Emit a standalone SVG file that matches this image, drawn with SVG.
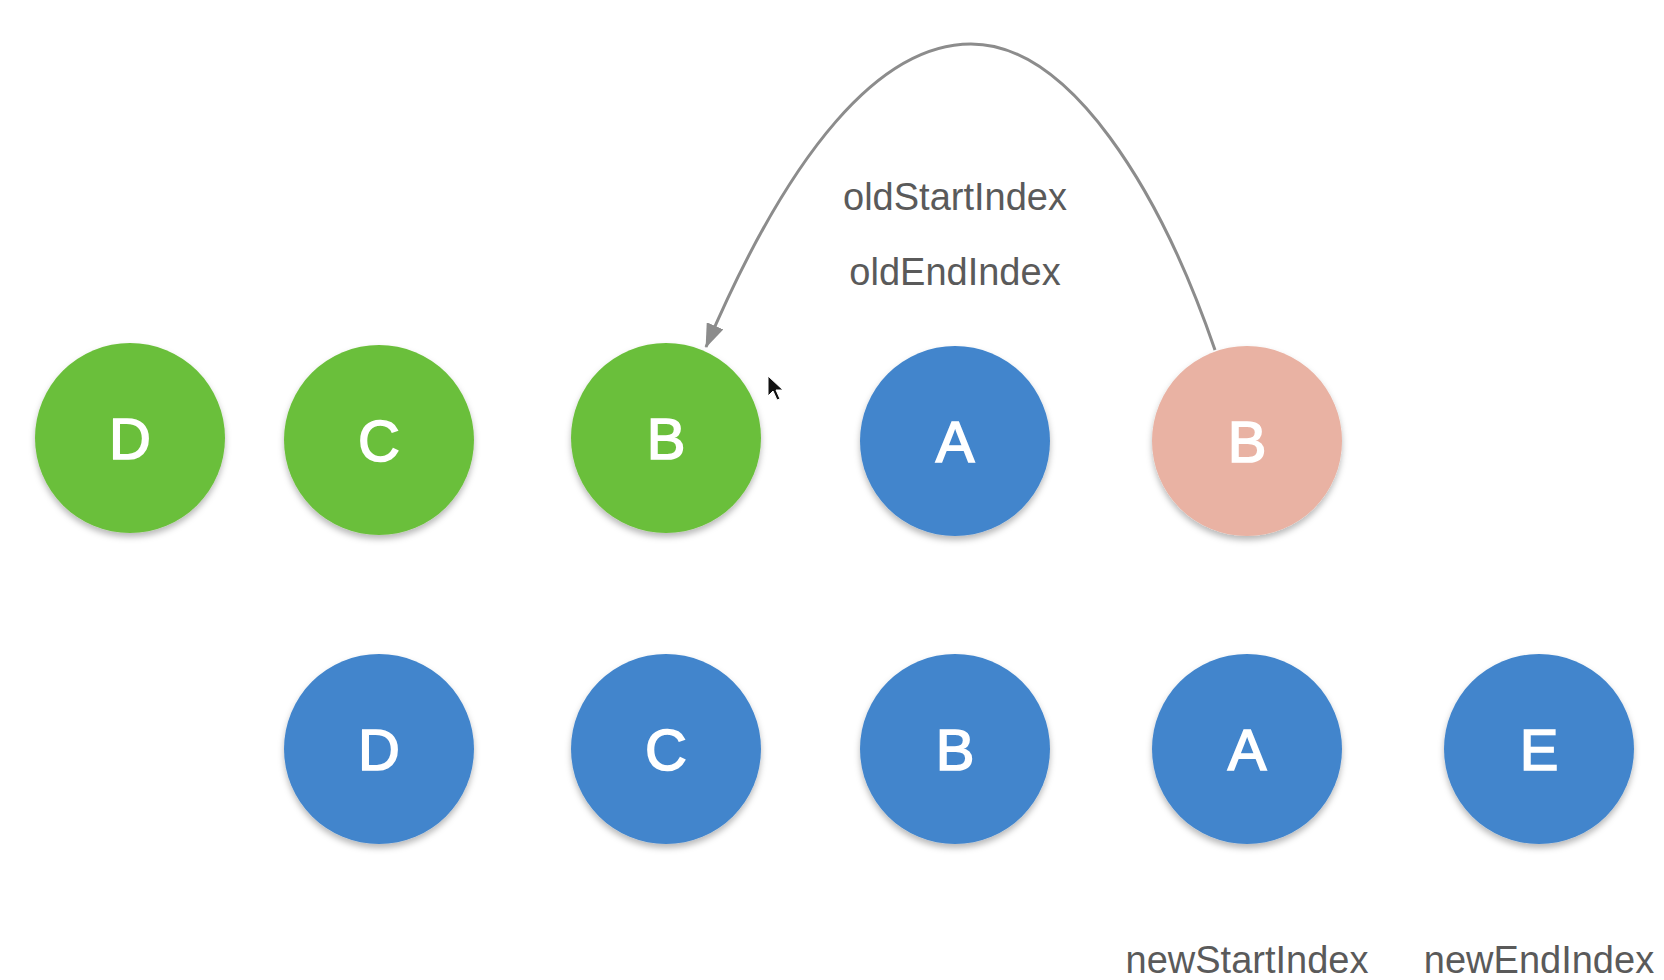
<svg xmlns="http://www.w3.org/2000/svg" width="1664" height="980" viewBox="0 0 1664 980">
  <defs>
    <filter id="sh" x="-20%" y="-20%" width="140%" height="150%">
      <feDropShadow dx="0" dy="4" stdDeviation="3" flood-color="#000" flood-opacity="0.28"/>
    </filter>
    <marker id="ah" viewBox="0 0 24 18" refX="23" refY="9" markerWidth="24" markerHeight="18" markerUnits="userSpaceOnUse" orient="auto">
      <path d="M0,0 L24,9 L0,18 Z" fill="#8c8c8c"/>
    </marker>
    <style>
      .green { fill: #6bbf3b; }
      .blue { fill: #4285cc; }
      .pink { fill: #e9b2a3; }
      .lbl { font-family: "Liberation Sans", Arial, sans-serif; font-size: 58px; fill: #ffffff; stroke: #ffffff; stroke-width: 1.6; text-anchor: middle; }
      .idx { font-family: "Liberation Sans", Arial, sans-serif; font-size: 38px; fill: #5a5a5a; text-anchor: middle; }
      .conn { fill: none; stroke: #8c8c8c; stroke-width: 3; }
    </style>
  </defs>
  <rect width="1664" height="980" fill="#ffffff"/>

  <g id="connectors">
    <path class="conn" d="M1215,350 C1160,190 1070,44 971,44 C880,44 790,150 706,347" marker-end="url(#ah)"/>
  </g>

  <g id="old-D"><circle class="green" cx="130" cy="438" r="95" filter="url(#sh)"/><text class="lbl" x="130" y="459">D</text></g>
  <g id="old-C"><circle class="green" cx="379" cy="440" r="95" filter="url(#sh)"/><text class="lbl" x="379" y="461">C</text></g>
  <g id="old-B"><circle class="green" cx="666" cy="438" r="95" filter="url(#sh)"/><text class="lbl" x="666" y="459">B</text></g>
  <g id="old-A"><circle class="blue" cx="955" cy="441" r="95" filter="url(#sh)"/><text class="lbl" x="955" y="462">A</text></g>
  <g id="old-B-moved"><circle class="pink" cx="1247" cy="441" r="95" filter="url(#sh)"/><text class="lbl" x="1247" y="462">B</text></g>

  <g id="new-D"><circle class="blue" cx="379" cy="749" r="95" filter="url(#sh)"/><text class="lbl" x="379" y="770">D</text></g>
  <g id="new-C"><circle class="blue" cx="666" cy="749" r="95" filter="url(#sh)"/><text class="lbl" x="666" y="770">C</text></g>
  <g id="new-B"><circle class="blue" cx="955" cy="749" r="95" filter="url(#sh)"/><text class="lbl" x="955" y="770">B</text></g>
  <g id="new-A"><circle class="blue" cx="1247" cy="749" r="95" filter="url(#sh)"/><text class="lbl" x="1247" y="770">A</text></g>
  <g id="new-E"><circle class="blue" cx="1539" cy="749" r="95" filter="url(#sh)"/><text class="lbl" x="1539" y="770">E</text></g>

  <g id="labels">
    <text class="idx" x="955" y="210">oldStartIndex</text>
    <text class="idx" x="955" y="285">oldEndIndex</text>
    <text class="idx" x="1247" y="973">newStartIndex</text>
    <text class="idx" x="1539" y="973">newEndIndex</text>
  </g>

  <g id="cursor">
    <path d="M768,376 L768,396 L773,391 L777,400 L780,399 L776,390 L783,390 Z" fill="#111" stroke="#fff" stroke-width="1"/>
  </g>
</svg>
